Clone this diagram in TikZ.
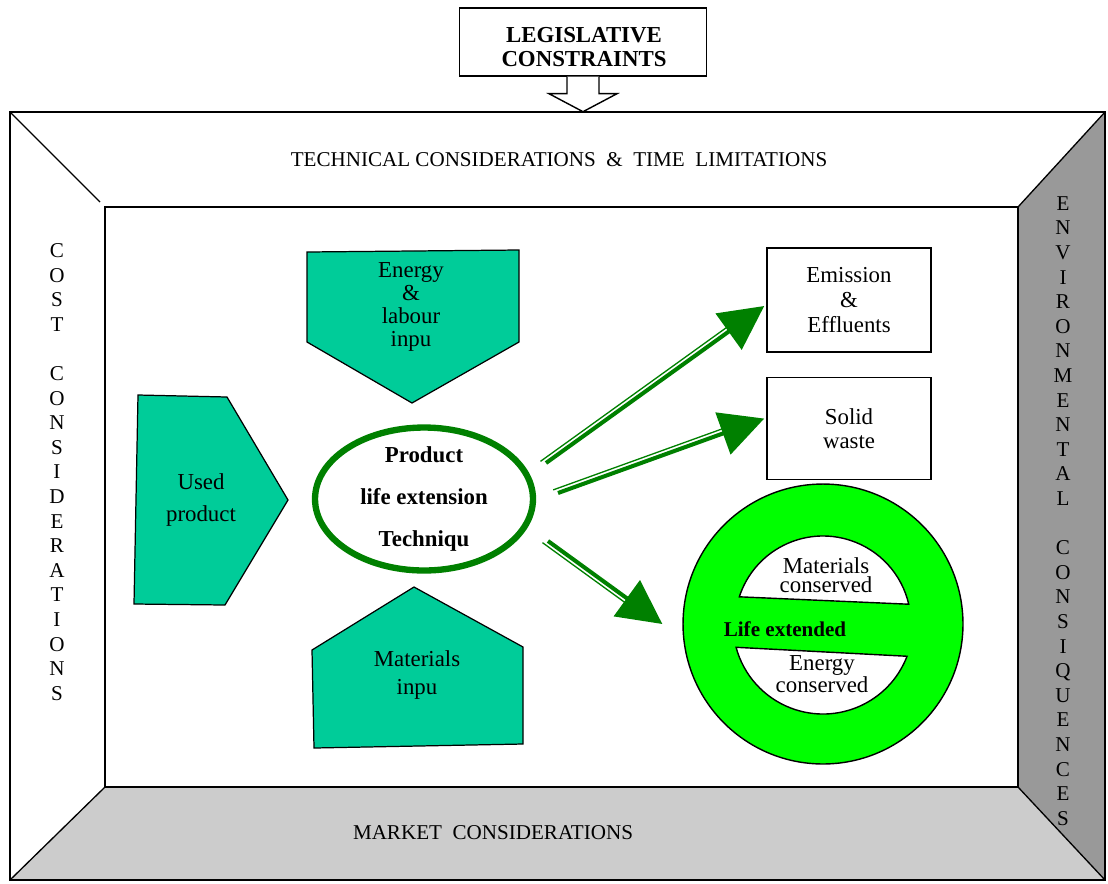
\documentclass[tikz,border=0pt]{standalone}
\usepackage{fontspec}
\setmainfont{Liberation Serif}
\usetikzlibrary{shapes.geometric,arrows.meta,positioning,calc}
\definecolor{flowgreen}{RGB}{0,128,0}
\definecolor{inputteal}{RGB}{0,204,153}
\definecolor{lifegreen}{RGB}{0,255,0}
\definecolor{sidegray}{RGB}{153,153,153}
\definecolor{floorgray}{RGB}{204,204,204}
\tikzset
{
    wall/.style      = {draw=black, line width=0.75pt},
    walltext/.style  = {align=center, font=\fontsize{12}{14}\selectfont},
    legisbox/.style  = {rectangle, draw=black, line width=0.8pt, fill=white, minimum width=4.94cm, minimum height=1.36cm},
    legistext/.style = {align=center, font=\fontsize{13}{13.5}\selectfont\bfseries},
    hollowarrow/.style = {draw=black, line width=0.8pt, fill=white},
    inflow/.style    = {draw=black, line width=0.7pt, fill=inputteal},
    intext/.style    = {align=center, font=\fontsize{13}{13.2}\selectfont},
    outbox/.style    = {rectangle, draw=black, line width=0.9pt, minimum width=3.28cm, align=center, font=\fontsize{13}{14}\selectfont},
    technique/.style = {ellipse, draw=flowgreen, line width=3.6pt, minimum width=4.36cm, minimum height=2.86cm},
    flow/.style      = {draw=flowgreen, line width=2.3pt, -{Triangle[length=25pt, width=25pt]}},
    flowtrace/.style = {draw=flowgreen, line width=0.75pt, shorten >=12pt, shorten <=-2pt},
    lifering/.style  = {circle, draw=black, line width=0.8pt, fill=lifegreen, minimum size=5.6cm},
    saved/.style     = {draw=black, line width=0.8pt, fill=white},
    savedtext/.style = {align=center, font=\fontsize{13}{14}\selectfont}
}

\begin{document}
\begin{tikzpicture}[x=0.02cm, y=-0.02cm]
	\useasboundingbox (0,0) rectangle (1108,883);

	% room walls
	\fill[floorgray] (105,787) -- (1018,787) -- (1105,880) -- (10,880) -- cycle;
	\fill[sidegray]  (1018,207) -- (1105,112) -- (1105,880) -- (1018,787) -- cycle;
	\draw[wall] (10,112) rectangle (1105,880);
	\draw[wall, line width=1.1pt] (105,207) rectangle (1018,787);
	\draw[wall] (10,112) -- (100,202)  (1105,112) -- (1018,207)  (10,880) -- (105,787)  (1105,880) -- (1018,787);

	\node (timewall)  [walltext] at (559,160) {TECHNICAL CONSIDERATIONS \ \& \ TIME \ LIMITATIONS};
	\node (market)    [walltext] at (493,833) {MARKET \ CONSIDERATIONS};
	\node (cost)      [walltext] at (57,472)  {C\\O\\S\\T\\[14pt]C\\O\\N\\S\\I\\D\\E\\R\\A\\T\\I\\O\\N\\S};
	\node (envir)     [walltext] at (1063,511) {E\\N\\V\\I\\R\\O\\N\\M\\E\\N\\T\\A\\L\\[14pt]C\\O\\N\\S\\I\\Q\\U\\E\\N\\C\\E\\S};

	% legislation from above
	\node (legis) [legisbox] at (583,42) {};
	\node (legisname) [legistext] at ([shift=({1,5})]legis.center) {LEGISLATIVE\\CONSTRAINTS};
	\draw[hollowarrow] (legis.south) ++(-16,0) -- ++(0,17) -- ++(-18,0) -- ++(34,18) -- ++(34,-18) -- ++(-18,0) -- ++(0,-17);

	% inputs
	\filldraw[inflow] (307,252) -- (519,250) -- (519,342) -- (412,403) -- (307,342) -- cycle;
	\node (energy) [intext] at (411,307) {Energy\\\&\\labour\\inpu};
	\filldraw[inflow] (138,395) -- (227,397) -- (288,500) -- (225,605) -- (134,604) -- cycle;
	\node (used)   [intext, font=\fontsize{13}{18.7}\selectfont] at (201,500) {Used\\product};
	\filldraw[inflow] (312,650) -- (414,587) -- (523,647) -- (523,744) -- (314,748) -- cycle;
	\node (mat)    [intext, font=\fontsize{13}{16}\selectfont] at (417,675) {Materials\\inpu};

	\node (ple)     [technique] at (424,499) {};
	\node (pletext) [align=center, font=\fontsize{13}{24}\selectfont\bfseries] at (ple) {Product\\life extension\\Techniqu};

	% outputs
	\node (emis)  [outbox, minimum height=2.08cm] at (849,300) {Emission\\\&\\Effluents};
	\node (solid) [outbox, minimum height=2.04cm, below=0.48cm of emis] {Solid\\waste};

	\node (life) [lifering] at (823,624) {};
	\filldraw[saved] (life.center) ++(-162:88) arc[start angle=-162, end angle=-13, radius=88] -- cycle;
	\filldraw[saved] (life.center) ++(21:90) arc[start angle=21, end angle=165, radius=90] -- cycle;
	\node (matsaved) [savedtext] at ([shift=({3,-49})]life.center) {Materials\\[-3pt]conserved};
	\node (lifeext)  [font=\fontsize{12}{12}\selectfont\bfseries] at ([shift=({-38,5})]life.center) {Life extended};
	\node (ensaved)  [savedtext, font=\fontsize{13}{12.5}\selectfont] at ([shift=({-1,50})]life.center) {Energy\\conserved};

	\coordinate (t1) at (546,463);
	\coordinate (h1) at ([shift=({-2,6})]emis.west);
	\coordinate (t2) at (558,493);
	\coordinate (h2) at ([shift=({-2,-10})]solid.west);
	\coordinate (t3) at (548,541);
	\coordinate (h3) at ([shift=({-20,0})]life.west);

	\draw[flow] (t1) -- (h1);
	\draw[flow] (t2) -- (h2);
	\draw[flow] (t3) -- (h3);
	\draw[flowtrace] ($(t1)!2.6pt!90:(h1)$) -- ($(h1)!2.6pt!-90:(t1)$);
	\draw[flowtrace] ($(t2)!2.6pt!90:(h2)$) -- ($(h2)!2.6pt!-90:(t2)$);
	\draw[flowtrace] ($(t3)!2.6pt!-90:(h3)$) -- ($(h3)!2.6pt!90:(t3)$);
\end{tikzpicture}
\end{document}
